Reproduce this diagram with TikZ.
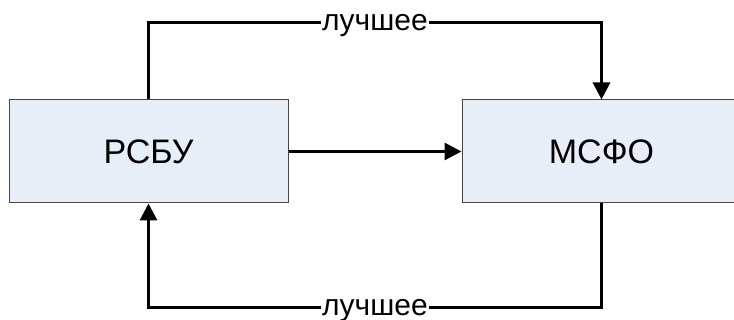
\documentclass[tikz,border=0pt]{standalone}
\usepackage{fontspec}
\setmainfont{Liberation Sans}
\usetikzlibrary{arrows.meta}
\definecolor{boxfill}{RGB}{232,238,248}
\definecolor{boxborder}{RGB}{70,70,70}
\begin{document}
\begin{tikzpicture}[x=1pt,y=1pt,
  box/.style={draw=boxborder, fill=boxfill, line width=1pt, minimum width=279pt,
    minimum height=103pt, inner sep=0pt, font=\fontsize{34}{40}\selectfont},
  conn/.style={line width=3pt, -{Triangle[length=17pt,width=17pt]}},
  lbl/.style={fill=white, inner xsep=1pt, inner ysep=0pt, text height=16pt, text depth=0pt,
    font=\fontsize{30}{36}\selectfont}]
\useasboundingbox (0,0) rectangle (734,320);
\node[box] (lb) at (148.5,168.5) {РСБУ};
\node[box] (rb) at (601.5,168.5) {МСФО};
\path (lb.north) ++(0,77) coordinate (tl);
\path (rb.north) ++(0,77) coordinate (tr);
\path (rb.south) ++(0,-104) coordinate (br);
\path (lb.south) ++(0,-104) coordinate (bl);
\draw[conn] (lb.north) -- (tl) -- node[lbl]{лучшее} (tr) -- (rb.north);
\draw[conn] (rb.south) -- (br) -- node[lbl]{лучшее} (bl) -- (lb.south);
\draw[conn] (lb.east |- 0,152+16.5) -- (rb.west |- 0,152+16.5);
\end{tikzpicture}
\end{document}
